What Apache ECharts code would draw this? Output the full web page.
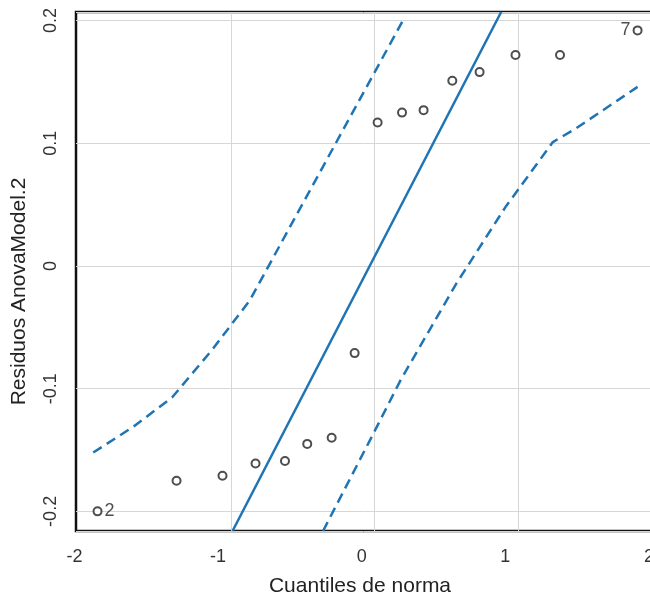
<!DOCTYPE html>
<html><head><meta charset="utf-8">
<script src="https://cdn.jsdelivr.net/npm/echarts@6/dist/echarts.min.js"></script>
<style>html,body{margin:0;padding:0;background:#fff}#chart{width:650px;height:599px}</style>
</head><body><div id="chart"></div>
<script>
// Theoretical normal quantiles (x) and residuals (y)
const normQuantiles = [-1.93, -1.38, -1.06, -0.83, -0.625, -0.47, -0.30, -0.14, 0.02, 0.19, 0.34, 0.54, 0.73, 0.98, 1.29, 1.83];
const residuals = [-0.200, -0.175, -0.171, -0.161, -0.159, -0.145, -0.140, -0.071, 0.117, 0.125, 0.127, 0.151, 0.158, 0.172, 0.172, 0.192];
const pointLabels = ['2', '', '', '', '', '', '', '', '', '', '', '', '', '', '', '7'];
// Reference line and confidence envelope
const refLineX = [-0.99, 0.88];
const refLineY = [-0.216, 0.207];
const upperBandX = [-1.96, -1.68, -1.41, -1.13, -0.87, 0.21];
const upperBandY = [-0.152, -0.131, -0.107, -0.068, -0.028, 0.203];
const lowerBandX = [-0.36, -0.02, 0.18, 0.57, 0.91, 1.24, 1.40, 1.83];
const lowerBandY = [-0.216, -0.139, -0.093, -0.014, 0.048, 0.101, 0.112, 0.146];
// Tick labels
const xTicks = [-2, -1, 0, 1, 2];
const yTicks = [-0.2, -0.1, 0, 0.1, 0.2];

const FONT = '"Liberation Sans", Arial, sans-serif';
const BLUE = '#1f74b4';
const zip = (xs, ys) => xs.map((x, i) => [x, ys[i]]);
const tickFmt = ticks => v => {
  const t = ticks.find(t => Math.abs(t - v) < 1e-6);
  return t === undefined ? '' : String(t);
};

const chart = echarts.init(document.getElementById('chart'), null, {renderer: 'canvas'});
chart.setOption({
  animation: false,
  backgroundColor: '#fff',
  grid: {left: 76, top: 12, right: -12, bottom: 68, show: true, borderColor: '#111', borderWidth: 2.5,
         containLabel: false, outerBoundsMode: 'none'},
  xAxis: {
    type: 'value', min: -2.08, max: 2,
    name: 'Cuantiles de norma', nameLocation: 'middle', nameGap: 45,
    nameTextStyle: {fontFamily: FONT, fontSize: 21, color: '#222', padding: [0, 18, 0, 0]},
    axisLine: {show: false}, axisTick: {show: false},
    axisLabel: {formatter: tickFmt(xTicks), fontFamily: FONT, fontSize: 18, color: '#333', margin: 17, padding: [0, 26, 0, 0]},
    splitLine: {show: true, showMinLine: false, lineStyle: {color: ['rgba(0,0,0,0)', '#d6d6d6', '#d6d6d6', '#d6d6d6', '#d6d6d6', '#d6d6d6'], width: 1}}
  },
  yAxis: {
    type: 'value', min: -0.216, max: 0.207,
    name: 'Residuos AnovaModel.2', nameLocation: 'middle', nameGap: 46,
    nameTextStyle: {fontFamily: FONT, fontSize: 21, color: '#222', padding: [0, 40, 0, 0]},
    axisLine: {show: false}, axisTick: {show: false},
    axisLabel: {formatter: tickFmt(yTicks), rotate: 90, fontFamily: FONT, fontSize: 18, color: '#333', margin: 16},
    splitLine: {show: true, lineStyle: {color: '#d6d6d6', width: 1}}
  },
  series: [
    {type: 'line', data: zip(refLineX, refLineY), symbol: 'none', lineStyle: {color: BLUE, width: 2.5}, z: 3},
    {type: 'line', data: zip(upperBandX, upperBandY), symbol: 'none', lineStyle: {color: BLUE, width: 2.5, type: [10, 6]}, z: 3},
    {type: 'line', data: zip(lowerBandX, lowerBandY), symbol: 'none', lineStyle: {color: BLUE, width: 2.5, type: [10, 6]}, z: 3},
    {
      type: 'scatter', symbol: 'emptyCircle', symbolSize: 8, z: 4,
      itemStyle: {color: '#222', borderColor: '#222', borderWidth: 2.3},
      data: normQuantiles.map((x, i) => ({
        value: [x, residuals[i]],
        label: {show: pointLabels[i] !== '', formatter: pointLabels[i], position: x < 0 ? 'right' : 'left', distance: 2,
                fontFamily: FONT, fontSize: 18, color: '#222'}
      }))
    }
  ]
});
</script></body></html>
